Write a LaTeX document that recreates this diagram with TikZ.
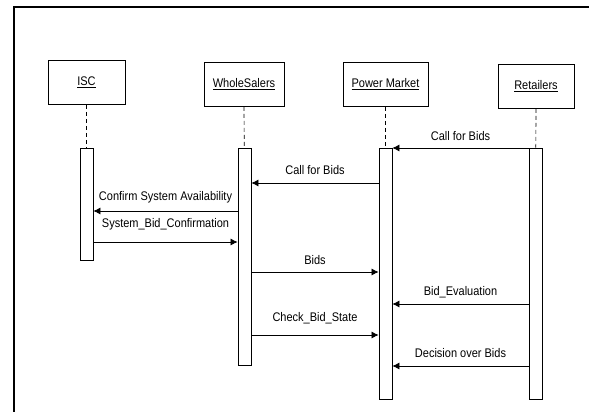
\documentclass[tikz,border=0pt]{standalone}
\usepackage{fontspec}
\setmainfont[FakeStretch=0.88]{Liberation Sans}
\usetikzlibrary{arrows.meta}
\begin{document}
\begin{tikzpicture}[x=1pt,y=-1pt,font=\fontsize{12.5}{14}\selectfont,
    actor/.style={draw,line width=0.8pt,minimum height=44pt,inner sep=0pt},
    act/.style={draw,line width=0.8pt,fill=white,minimum width=13pt,inner sep=0pt},
    life/.style={line width=0.7pt,dash pattern=on 4pt off 3pt},
    msg/.style={->,>={Latex[length=7pt,width=7pt]},line width=0.7pt},
    lbl/.style={inner sep=0pt,text depth=0pt}]
    \useasboundingbox (0,0) rectangle (589,412);
    \draw[line width=1.6pt] (14,412) -- (14,7) -- (589,7);

    % objects
    \node[actor,minimum width=77pt] (isc) at (86.5,82.5) {\underline{ISC}};
    \node[actor,minimum width=80pt] (ws) at (244,84.5) {\underline{WholeSalers}};
    \node[actor,minimum width=85pt] (pm) at (385.5,84.5) {\underline{Power Market}};
    \node[actor,minimum width=76pt] (ret) at (536,86.5) {\underline{Retailers}};

    % activations
    \node[act,minimum height=112pt] (iscact) at (86.5,204) {};
    \node[act,minimum height=217pt] (wsact) at (244.5,256.5) {};
    \node[act,minimum height=251pt] (pmact) at (385.5,273.5) {};
    \node[act,minimum height=251pt] (retact) at (535.5,273.5) {};

    \draw[life] (isc) -- (iscact);
    \draw[life] (ws) -- (wsact);
    \draw[life] (pm) -- (pmact);
    \draw[life] (ret) -- (retact);

    % message levels
    \coordinate (y1) at (0,148);
    \coordinate (y2) at (0,183);
    \coordinate (y3) at (0,211);
    \coordinate (y4) at (0,242);
    \coordinate (y5) at (0,272);
    \coordinate (y6) at (0,304);
    \coordinate (y7) at (0,335);
    \coordinate (y8) at (0,366);

    \draw[msg] (retact.west |- y1) -- node[lbl,above=7pt]{Call for Bids} (pmact.east |- y1);
    \draw[msg] (pmact.west |- y2) -- node[lbl,above=8pt]{Call for Bids} (wsact.east |- y2);
    \draw[msg] (wsact.west |- y3) -- node[lbl,above=10pt]{Confirm System Availability} (iscact.east |- y3);
    \draw[msg] (iscact.east |- y4) -- node[lbl,above=14pt]{System\_Bid\_Confirmation} (wsact.west |- y4);
    \draw[msg] (wsact.east |- y5) -- node[lbl,above=7pt]{Bids} (pmact.west |- y5);
    \draw[msg] (retact.west |- y6) -- node[lbl,above=8pt]{Bid\_Evaluation} (pmact.east |- y6);
    \draw[msg] (wsact.east |- y7) -- node[lbl,above=13pt]{Check\_Bid\_State} (pmact.west |- y7);
    \draw[msg] (retact.west |- y8) -- node[lbl,above=8pt]{Decision over Bids} (pmact.east |- y8);
\end{tikzpicture}
\end{document}
